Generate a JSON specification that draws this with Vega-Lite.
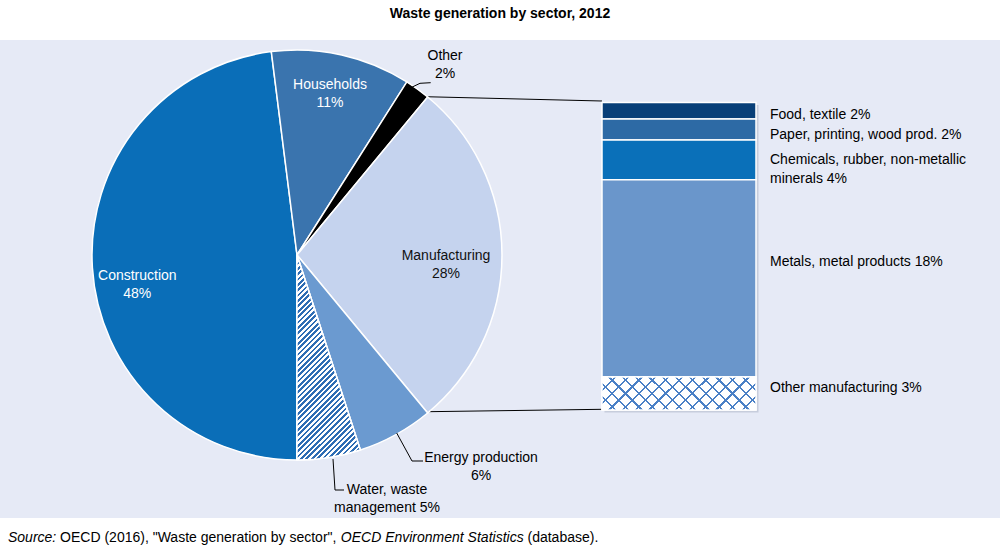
{
"$schema":"https://vega.github.io/schema/vega-lite/v6.json",
"width":1000,"height":478,
"autosize":{"type":"none"},
"padding":{"left":0,"top":40,"right":0,"bottom":32},
"background":"#ffffff",
"view":{"fill":"#e6eaf6","stroke":null},
"config":{"font":"Liberation Sans","axis":{"disable":true},"legend":{"disable":true},"text":{"font":"Liberation Sans","fontSize":14,"color":"#000000"}},
"title":{"text":"Waste generation by sector, 2012","font":"Liberation Sans","fontSize":14,"fontWeight":"bold","color":"#000000","anchor":"middle","offset":19},
"datasets":{
"sectors":[
{"sector":"Construction","pct":48,"ord":1,"label":"Construction\n48%"},
{"sector":"Households","pct":11,"ord":2,"label":"Households\n11%"},
{"sector":"Other","pct":2,"ord":3,"label":"Other\n2%"},
{"sector":"Manufacturing","pct":28,"ord":4,"label":"Manufacturing\n28%"},
{"sector":"Energy production","pct":6,"ord":5,"label":"Energy production\n6%"},
{"sector":"Water, waste management","pct":5,"ord":6,"label":"Water, waste\nmanagement 5%"}
],
"manuf":[
{"item":"Food, textile","pct":1.5,"ord":5,"label":"Food, textile 2%"},
{"item":"Paper, printing, wood prod.","pct":1.9,"ord":4,"label":"Paper, printing, wood prod. 2%"},
{"item":"Chemicals, rubber, non-metallic minerals","pct":3.6,"ord":3,"label":"Chemicals, rubber, non-metallic\nminerals 4%"},
{"item":"Metals, metal products","pct":17.9,"ord":2,"label":"Metals, metal products 18%"},
{"item":"Other manufacturing","pct":3.0,"ord":1,"label":"Other manufacturing 3%"}
]
},
"data":{"values":[{}]},
"resolve":{"scale":{"y":"independent","color":"independent"}},
"layer":[
{"layer":[
{"mark":{"type":"rule","color":"#000000","strokeWidth":1},"encoding":{"x":{"datum":42.5,"type":"quantitative","scale":{"domain":[0,100],"nice":false}},"y":{"datum":42.13,"type":"quantitative","scale":{"domain":[0,47.8],"nice":false}},"x2":{"datum":60.2},"y2":{"datum":41.7}}},
{"mark":{"type":"rule","color":"#000000","strokeWidth":1},"encoding":{"x":{"datum":42.8,"type":"quantitative"},"y":{"datum":10.63,"type":"quantitative"},"x2":{"datum":60.2},"y2":{"datum":10.87}}},
{"data":{"name":"sectors"},
"transform":[{"stack":"pct","groupby":[],"sort":[{"field":"ord","order":"ascending"}],"as":["s0","s1"]}],
"mark":{"type":"arc","radius":205,"stroke":"#ffffff","strokeWidth":1.5},
"encoding":{
"x":{"datum":29.7,"type":"quantitative","scale":{"domain":[0,100],"nice":false}},
"y":{"datum":26.3,"type":"quantitative","scale":{"domain":[0,47.8],"nice":false}},
"theta":{"field":"s0","type":"quantitative","scale":{"domain":[0,100],"range":[3.14159265,9.42477796]}},
"theta2":{"field":"s1"},
"color":{"field":"sector","type":"nominal","scale":{"domain":["Construction","Households","Other","Manufacturing","Energy production","Water, waste management"],"range":["#0a6eb8","#3a74ae","#000000","#c5d3ee","#6b9ad0","#ffffff"]}}
}},
{"data":{"name":"sectors"},
"transform":[{"stack":"pct","groupby":[],"sort":[{"field":"ord","order":"ascending"}],"as":["s0","s1"]},{"filter":"datum.sector === 'Water, waste management'"}],
"mark":{"type":"arc","radius":205,"stroke":"#ffffff","strokeWidth":1.5,"fill":{"gradient":"linear","x1":0,"y1":0,"x2":0.369,"y2":1.195,"stops":[
{"offset":0,"color":"#ffffff"},
{"offset":0.01,"color":"#ffffff"},{"offset":0.01,"color":"#2e6db4"},{"offset":0.02,"color":"#2e6db4"},{"offset":0.02,"color":"#ffffff"},
{"offset":0.03,"color":"#ffffff"},{"offset":0.03,"color":"#2e6db4"},{"offset":0.04,"color":"#2e6db4"},{"offset":0.04,"color":"#ffffff"},
{"offset":0.05,"color":"#ffffff"},{"offset":0.05,"color":"#2e6db4"},{"offset":0.06,"color":"#2e6db4"},{"offset":0.06,"color":"#ffffff"},
{"offset":0.07,"color":"#ffffff"},{"offset":0.07,"color":"#2e6db4"},{"offset":0.08,"color":"#2e6db4"},{"offset":0.08,"color":"#ffffff"},
{"offset":0.09,"color":"#ffffff"},{"offset":0.09,"color":"#2e6db4"},{"offset":0.10,"color":"#2e6db4"},{"offset":0.10,"color":"#ffffff"},
{"offset":0.11,"color":"#ffffff"},{"offset":0.11,"color":"#2e6db4"},{"offset":0.12,"color":"#2e6db4"},{"offset":0.12,"color":"#ffffff"},
{"offset":0.13,"color":"#ffffff"},{"offset":0.13,"color":"#2e6db4"},{"offset":0.14,"color":"#2e6db4"},{"offset":0.14,"color":"#ffffff"},
{"offset":0.15,"color":"#ffffff"},{"offset":0.15,"color":"#2e6db4"},{"offset":0.16,"color":"#2e6db4"},{"offset":0.16,"color":"#ffffff"},
{"offset":0.17,"color":"#ffffff"},{"offset":0.17,"color":"#2e6db4"},{"offset":0.18,"color":"#2e6db4"},{"offset":0.18,"color":"#ffffff"},
{"offset":0.19,"color":"#ffffff"},{"offset":0.19,"color":"#2e6db4"},{"offset":0.20,"color":"#2e6db4"},{"offset":0.20,"color":"#ffffff"},
{"offset":0.21,"color":"#ffffff"},{"offset":0.21,"color":"#2e6db4"},{"offset":0.22,"color":"#2e6db4"},{"offset":0.22,"color":"#ffffff"},
{"offset":0.23,"color":"#ffffff"},{"offset":0.23,"color":"#2e6db4"},{"offset":0.24,"color":"#2e6db4"},{"offset":0.24,"color":"#ffffff"},
{"offset":0.25,"color":"#ffffff"},{"offset":0.25,"color":"#2e6db4"},{"offset":0.26,"color":"#2e6db4"},{"offset":0.26,"color":"#ffffff"},
{"offset":0.27,"color":"#ffffff"},{"offset":0.27,"color":"#2e6db4"},{"offset":0.28,"color":"#2e6db4"},{"offset":0.28,"color":"#ffffff"},
{"offset":0.29,"color":"#ffffff"},{"offset":0.29,"color":"#2e6db4"},{"offset":0.30,"color":"#2e6db4"},{"offset":0.30,"color":"#ffffff"},
{"offset":0.31,"color":"#ffffff"},{"offset":0.31,"color":"#2e6db4"},{"offset":0.32,"color":"#2e6db4"},{"offset":0.32,"color":"#ffffff"},
{"offset":0.33,"color":"#ffffff"},{"offset":0.33,"color":"#2e6db4"},{"offset":0.34,"color":"#2e6db4"},{"offset":0.34,"color":"#ffffff"},
{"offset":0.35,"color":"#ffffff"},{"offset":0.35,"color":"#2e6db4"},{"offset":0.36,"color":"#2e6db4"},{"offset":0.36,"color":"#ffffff"},
{"offset":0.37,"color":"#ffffff"},{"offset":0.37,"color":"#2e6db4"},{"offset":0.38,"color":"#2e6db4"},{"offset":0.38,"color":"#ffffff"},
{"offset":0.39,"color":"#ffffff"},{"offset":0.39,"color":"#2e6db4"},{"offset":0.40,"color":"#2e6db4"},{"offset":0.40,"color":"#ffffff"},
{"offset":0.41,"color":"#ffffff"},{"offset":0.41,"color":"#2e6db4"},{"offset":0.42,"color":"#2e6db4"},{"offset":0.42,"color":"#ffffff"},
{"offset":0.43,"color":"#ffffff"},{"offset":0.43,"color":"#2e6db4"},{"offset":0.44,"color":"#2e6db4"},{"offset":0.44,"color":"#ffffff"},
{"offset":0.45,"color":"#ffffff"},{"offset":0.45,"color":"#2e6db4"},{"offset":0.46,"color":"#2e6db4"},{"offset":0.46,"color":"#ffffff"},
{"offset":0.47,"color":"#ffffff"},{"offset":0.47,"color":"#2e6db4"},{"offset":0.48,"color":"#2e6db4"},{"offset":0.48,"color":"#ffffff"},
{"offset":0.49,"color":"#ffffff"},{"offset":0.49,"color":"#2e6db4"},{"offset":0.50,"color":"#2e6db4"},{"offset":0.50,"color":"#ffffff"},
{"offset":0.51,"color":"#ffffff"},{"offset":0.51,"color":"#2e6db4"},{"offset":0.52,"color":"#2e6db4"},{"offset":0.52,"color":"#ffffff"},
{"offset":0.53,"color":"#ffffff"},{"offset":0.53,"color":"#2e6db4"},{"offset":0.54,"color":"#2e6db4"},{"offset":0.54,"color":"#ffffff"},
{"offset":0.55,"color":"#ffffff"},{"offset":0.55,"color":"#2e6db4"},{"offset":0.56,"color":"#2e6db4"},{"offset":0.56,"color":"#ffffff"},
{"offset":0.57,"color":"#ffffff"},{"offset":0.57,"color":"#2e6db4"},{"offset":0.58,"color":"#2e6db4"},{"offset":0.58,"color":"#ffffff"},
{"offset":0.59,"color":"#ffffff"},{"offset":0.59,"color":"#2e6db4"},{"offset":0.60,"color":"#2e6db4"},{"offset":0.60,"color":"#ffffff"},
{"offset":0.61,"color":"#ffffff"},{"offset":0.61,"color":"#2e6db4"},{"offset":0.62,"color":"#2e6db4"},{"offset":0.62,"color":"#ffffff"},
{"offset":0.63,"color":"#ffffff"},{"offset":0.63,"color":"#2e6db4"},{"offset":0.64,"color":"#2e6db4"},{"offset":0.64,"color":"#ffffff"},
{"offset":0.65,"color":"#ffffff"},{"offset":0.65,"color":"#2e6db4"},{"offset":0.66,"color":"#2e6db4"},{"offset":0.66,"color":"#ffffff"},
{"offset":0.67,"color":"#ffffff"},{"offset":0.67,"color":"#2e6db4"},{"offset":0.68,"color":"#2e6db4"},{"offset":0.68,"color":"#ffffff"},
{"offset":0.69,"color":"#ffffff"},{"offset":0.69,"color":"#2e6db4"},{"offset":0.70,"color":"#2e6db4"},{"offset":0.70,"color":"#ffffff"},
{"offset":0.71,"color":"#ffffff"},{"offset":0.71,"color":"#2e6db4"},{"offset":0.72,"color":"#2e6db4"},{"offset":0.72,"color":"#ffffff"},
{"offset":0.73,"color":"#ffffff"},{"offset":0.73,"color":"#2e6db4"},{"offset":0.74,"color":"#2e6db4"},{"offset":0.74,"color":"#ffffff"},
{"offset":0.75,"color":"#ffffff"},{"offset":0.75,"color":"#2e6db4"},{"offset":0.76,"color":"#2e6db4"},{"offset":0.76,"color":"#ffffff"},
{"offset":0.77,"color":"#ffffff"},{"offset":0.77,"color":"#2e6db4"},{"offset":0.78,"color":"#2e6db4"},{"offset":0.78,"color":"#ffffff"},
{"offset":0.79,"color":"#ffffff"},{"offset":0.79,"color":"#2e6db4"},{"offset":0.80,"color":"#2e6db4"},{"offset":0.80,"color":"#ffffff"},
{"offset":0.81,"color":"#ffffff"},{"offset":0.81,"color":"#2e6db4"},{"offset":0.82,"color":"#2e6db4"},{"offset":0.82,"color":"#ffffff"},
{"offset":0.83,"color":"#ffffff"},{"offset":0.83,"color":"#2e6db4"},{"offset":0.84,"color":"#2e6db4"},{"offset":0.84,"color":"#ffffff"},
{"offset":0.85,"color":"#ffffff"},{"offset":0.85,"color":"#2e6db4"},{"offset":0.86,"color":"#2e6db4"},{"offset":0.86,"color":"#ffffff"},
{"offset":0.87,"color":"#ffffff"},{"offset":0.87,"color":"#2e6db4"},{"offset":0.88,"color":"#2e6db4"},{"offset":0.88,"color":"#ffffff"},
{"offset":0.89,"color":"#ffffff"},{"offset":0.89,"color":"#2e6db4"},{"offset":0.90,"color":"#2e6db4"},{"offset":0.90,"color":"#ffffff"},
{"offset":0.91,"color":"#ffffff"},{"offset":0.91,"color":"#2e6db4"},{"offset":0.92,"color":"#2e6db4"},{"offset":0.92,"color":"#ffffff"},
{"offset":0.93,"color":"#ffffff"},{"offset":0.93,"color":"#2e6db4"},{"offset":0.94,"color":"#2e6db4"},{"offset":0.94,"color":"#ffffff"},
{"offset":0.95,"color":"#ffffff"},{"offset":0.95,"color":"#2e6db4"},{"offset":0.96,"color":"#2e6db4"},{"offset":0.96,"color":"#ffffff"},
{"offset":0.97,"color":"#ffffff"},{"offset":0.97,"color":"#2e6db4"},{"offset":0.98,"color":"#2e6db4"},{"offset":0.98,"color":"#ffffff"},
{"offset":0.99,"color":"#ffffff"},{"offset":0.99,"color":"#2e6db4"},{"offset":1,"color":"#2e6db4"}
]}},
"encoding":{
"x":{"datum":29.7,"type":"quantitative"},
"y":{"datum":26.3,"type":"quantitative"},
"theta":{"field":"s0","type":"quantitative","scale":{"domain":[0,100],"range":[3.14159265,9.42477796]}},
"theta2":{"field":"s1"}
}},
{"mark":{"type":"rule","color":"#000000","strokeWidth":1},"encoding":{"x":{"datum":41.17,"type":"quantitative"},"y":{"datum":43.07,"type":"quantitative"},"x2":{"datum":42.0},"y2":{"datum":43.47}}},
{"mark":{"type":"rule","color":"#000000","strokeWidth":1},"encoding":{"x":{"datum":42.0,"type":"quantitative"},"y":{"datum":43.47,"type":"quantitative"},"x2":{"datum":43.07},"y2":{"datum":43.53}}},
{"mark":{"type":"rule","color":"#000000","strokeWidth":1},"encoding":{"x":{"datum":39.67,"type":"quantitative"},"y":{"datum":8.5,"type":"quantitative"},"x2":{"datum":41.2},"y2":{"datum":5.7}}},
{"mark":{"type":"rule","color":"#000000","strokeWidth":1},"encoding":{"x":{"datum":41.2,"type":"quantitative"},"y":{"datum":5.7,"type":"quantitative"},"x2":{"datum":42.3},"y2":{"datum":5.7}}},
{"mark":{"type":"rule","color":"#000000","strokeWidth":1},"encoding":{"x":{"datum":33.3,"type":"quantitative"},"y":{"datum":5.9,"type":"quantitative"},"x2":{"datum":33.5},"y2":{"datum":2.8}}},
{"mark":{"type":"rule","color":"#000000","strokeWidth":1},"encoding":{"x":{"datum":33.5,"type":"quantitative"},"y":{"datum":2.8,"type":"quantitative"},"x2":{"datum":34.4},"y2":{"datum":2.8}}},
{"data":{"name":"sectors"},
"transform":[{"stack":"pct","groupby":[],"sort":[{"field":"ord","order":"ascending"}],"as":["s0","s1"]},{"calculate":"(datum.s0 + datum.s1) / 2","as":"mid"},{"filter":"datum.sector === 'Households'"}],
"mark":{"type":"text","radius":165,"dx":-3,"dy":-9,"align":"center","baseline":"middle","lineBreak":"\n","lineHeight":18.5,"color":"#ffffff"},
"encoding":{"x":{"datum":29.7,"type":"quantitative"},"y":{"datum":26.3,"type":"quantitative"},"theta":{"field":"mid","type":"quantitative","scale":{"domain":[0,100],"range":[3.14159265,9.42477796]}},"text":{"field":"label"}}},
{"data":{"name":"sectors"},
"transform":[{"stack":"pct","groupby":[],"sort":[{"field":"ord","order":"ascending"}],"as":["s0","s1"]},{"calculate":"(datum.s0 + datum.s1) / 2","as":"mid"},{"filter":"datum.sector === 'Construction'"}],
"mark":{"type":"text","radius":160,"dy":10.5,"align":"center","baseline":"middle","lineBreak":"\n","lineHeight":18.5,"color":"#ffffff"},
"encoding":{"x":{"datum":29.7,"type":"quantitative"},"y":{"datum":26.3,"type":"quantitative"},"theta":{"field":"mid","type":"quantitative"},"text":{"field":"label"}}},
{"data":{"name":"sectors"},
"transform":[{"stack":"pct","groupby":[],"sort":[{"field":"ord","order":"ascending"}],"as":["s0","s1"]},{"calculate":"(datum.s0 + datum.s1) / 2","as":"mid"},{"filter":"datum.sector === 'Manufacturing'"}],
"mark":{"type":"text","radius":149,"dy":0.5,"align":"center","baseline":"middle","lineBreak":"\n","lineHeight":18.5,"color":"#111111"},
"encoding":{"x":{"datum":29.7,"type":"quantitative"},"y":{"datum":26.3,"type":"quantitative"},"theta":{"field":"mid","type":"quantitative"},"text":{"field":"label"}}},
{"data":{"name":"sectors"},
"transform":[{"stack":"pct","groupby":[],"sort":[{"field":"ord","order":"ascending"}],"as":["s0","s1"]},{"calculate":"(datum.s0 + datum.s1) / 2","as":"mid"},{"filter":"datum.sector === 'Other'"}],
"mark":{"type":"text","radius":236,"dx":9.3,"dy":-8.5,"align":"center","baseline":"middle","lineBreak":"\n","lineHeight":18,"color":"#000000"},
"encoding":{"x":{"datum":29.7,"type":"quantitative"},"y":{"datum":26.3,"type":"quantitative"},"theta":{"field":"mid","type":"quantitative"},"text":{"field":"label"}}},
{"data":{"name":"sectors"},
"transform":[{"stack":"pct","groupby":[],"sort":[{"field":"ord","order":"ascending"}],"as":["s0","s1"]},{"calculate":"(datum.s0 + datum.s1) / 2","as":"mid"},{"filter":"datum.sector === 'Energy production'"}],
"mark":{"type":"text","radius":240,"dx":68.4,"dy":-7.8,"align":"center","baseline":"middle","lineBreak":"\n","lineHeight":18.5,"color":"#000000"},
"encoding":{"x":{"datum":29.7,"type":"quantitative"},"y":{"datum":26.3,"type":"quantitative"},"theta":{"field":"mid","type":"quantitative"},"text":{"field":"label"}}},
{"data":{"name":"sectors"},
"transform":[{"stack":"pct","groupby":[],"sort":[{"field":"ord","order":"ascending"}],"as":["s0","s1"]},{"calculate":"(datum.s0 + datum.s1) / 2","as":"mid"},{"filter":"datum.sector === 'Water, waste management'"}],
"mark":{"type":"text","radius":245,"dx":51.7,"dy":-7,"align":"center","baseline":"middle","lineBreak":"\n","lineHeight":18.5,"color":"#000000"},
"encoding":{"x":{"datum":29.7,"type":"quantitative"},"y":{"datum":26.3,"type":"quantitative"},"theta":{"field":"mid","type":"quantitative"},"text":{"field":"label"}}},
{"mark":{"type":"text","align":"left","baseline":"middle","fontStyle":"italic","color":"#000000"},"encoding":{"x":{"datum":0.8,"type":"quantitative"},"y":{"datum":-2.0,"type":"quantitative"},"text":{"value":"Source:"}}},
{"mark":{"type":"text","align":"left","baseline":"middle","color":"#000000"},"encoding":{"x":{"datum":6.01,"type":"quantitative"},"y":{"datum":-2.0,"type":"quantitative"},"text":{"value":"OECD (2016), \"Waste generation by sector\","}}},
{"mark":{"type":"text","align":"left","baseline":"middle","fontStyle":"italic","color":"#000000"},"encoding":{"x":{"datum":34.08,"type":"quantitative"},"y":{"datum":-2.0,"type":"quantitative"},"text":{"value":"OECD Environment Statistics"}}},
{"mark":{"type":"text","align":"left","baseline":"middle","color":"#000000"},"encoding":{"x":{"datum":52.75,"type":"quantitative"},"y":{"datum":-2.0,"type":"quantitative"},"text":{"value":"(database)."}}}
]},
{"data":{"name":"manuf"},
"transform":[{"stack":"pct","groupby":[],"sort":[{"field":"ord","order":"ascending"}],"as":["y0","y1"]},{"calculate":"(datum.y0 + datum.y1) / 2","as":"mid"}],
"layer":[
{"mark":{"type":"rect","fill":"#8d97ad","opacity":0.35,"xOffset":2.5,"x2Offset":2.5,"yOffset":2.5,"y2Offset":2.5},
"encoding":{"x":{"datum":60.2,"type":"quantitative","scale":{"domain":[0,100],"nice":false}},"x2":{"datum":75.6},"y":{"field":"y0","type":"quantitative","scale":{"domain":[-9.799,33.57],"nice":false}},"y2":{"field":"y1"}}},
{"mark":{"type":"rect","stroke":"#ffffff","strokeWidth":1.5},
"encoding":{"x":{"datum":60.2,"type":"quantitative"},"x2":{"datum":75.6},"y":{"field":"y0","type":"quantitative"},"y2":{"field":"y1"},
"color":{"field":"item","type":"nominal","scale":{"domain":["Food, textile","Paper, printing, wood prod.","Chemicals, rubber, non-metallic minerals","Metals, metal products","Other manufacturing"],"range":["#083f78","#2d6aa5","#0a70b9","#6a96cb","#ffffff"]}}}},
{"transform":[{"filter":"datum.item === 'Other manufacturing'"}],
"mark":{"type":"rect","fill":{"gradient":"linear","x1":0,"y1":0,"x2":1.1617,"y2":0.2506,"stops":[
{"offset":0,"color":"rgba(255,255,255,0)"},
{"offset":0.0654,"color":"rgba(255,255,255,0)"},{"offset":0.0654,"color":"#4a80c6"},{"offset":0.0774,"color":"#4a80c6"},{"offset":0.0774,"color":"rgba(255,255,255,0)"},
{"offset":0.1369,"color":"rgba(255,255,255,0)"},{"offset":0.1369,"color":"#4a80c6"},{"offset":0.1489,"color":"#4a80c6"},{"offset":0.1489,"color":"rgba(255,255,255,0)"},
{"offset":0.2083,"color":"rgba(255,255,255,0)"},{"offset":0.2083,"color":"#4a80c6"},{"offset":0.2203,"color":"#4a80c6"},{"offset":0.2203,"color":"rgba(255,255,255,0)"},
{"offset":0.2797,"color":"rgba(255,255,255,0)"},{"offset":0.2797,"color":"#4a80c6"},{"offset":0.2917,"color":"#4a80c6"},{"offset":0.2917,"color":"rgba(255,255,255,0)"},
{"offset":0.3511,"color":"rgba(255,255,255,0)"},{"offset":0.3511,"color":"#4a80c6"},{"offset":0.3631,"color":"#4a80c6"},{"offset":0.3631,"color":"rgba(255,255,255,0)"},
{"offset":0.4226,"color":"rgba(255,255,255,0)"},{"offset":0.4226,"color":"#4a80c6"},{"offset":0.4346,"color":"#4a80c6"},{"offset":0.4346,"color":"rgba(255,255,255,0)"},
{"offset":0.494,"color":"rgba(255,255,255,0)"},{"offset":0.494,"color":"#4a80c6"},{"offset":0.506,"color":"#4a80c6"},{"offset":0.506,"color":"rgba(255,255,255,0)"},
{"offset":0.5654,"color":"rgba(255,255,255,0)"},{"offset":0.5654,"color":"#4a80c6"},{"offset":0.5774,"color":"#4a80c6"},{"offset":0.5774,"color":"rgba(255,255,255,0)"},
{"offset":0.6369,"color":"rgba(255,255,255,0)"},{"offset":0.6369,"color":"#4a80c6"},{"offset":0.6489,"color":"#4a80c6"},{"offset":0.6489,"color":"rgba(255,255,255,0)"},
{"offset":0.7083,"color":"rgba(255,255,255,0)"},{"offset":0.7083,"color":"#4a80c6"},{"offset":0.7203,"color":"#4a80c6"},{"offset":0.7203,"color":"rgba(255,255,255,0)"},
{"offset":0.7797,"color":"rgba(255,255,255,0)"},{"offset":0.7797,"color":"#4a80c6"},{"offset":0.7917,"color":"#4a80c6"},{"offset":0.7917,"color":"rgba(255,255,255,0)"},
{"offset":0.8511,"color":"rgba(255,255,255,0)"},{"offset":0.8511,"color":"#4a80c6"},{"offset":0.8631,"color":"#4a80c6"},{"offset":0.8631,"color":"rgba(255,255,255,0)"},
{"offset":0.9226,"color":"rgba(255,255,255,0)"},{"offset":0.9226,"color":"#4a80c6"},{"offset":0.9346,"color":"#4a80c6"},{"offset":0.9346,"color":"rgba(255,255,255,0)"},
{"offset":1,"color":"rgba(255,255,255,0)"}]}},
"encoding":{"x":{"datum":60.2,"type":"quantitative"},"x2":{"datum":75.6},"y":{"field":"y0","type":"quantitative"},"y2":{"field":"y1"}}},
{"transform":[{"filter":"datum.item === 'Other manufacturing'"}],
"mark":{"type":"rect","stroke":"#ffffff","strokeWidth":1.5,"fill":{"gradient":"linear","x1":0,"y1":1,"x2":1.1617,"y2":0.7494,"stops":[
{"offset":0,"color":"rgba(255,255,255,0)"},
{"offset":0.0654,"color":"rgba(255,255,255,0)"},{"offset":0.0654,"color":"#4a80c6"},{"offset":0.0774,"color":"#4a80c6"},{"offset":0.0774,"color":"rgba(255,255,255,0)"},
{"offset":0.1369,"color":"rgba(255,255,255,0)"},{"offset":0.1369,"color":"#4a80c6"},{"offset":0.1489,"color":"#4a80c6"},{"offset":0.1489,"color":"rgba(255,255,255,0)"},
{"offset":0.2083,"color":"rgba(255,255,255,0)"},{"offset":0.2083,"color":"#4a80c6"},{"offset":0.2203,"color":"#4a80c6"},{"offset":0.2203,"color":"rgba(255,255,255,0)"},
{"offset":0.2797,"color":"rgba(255,255,255,0)"},{"offset":0.2797,"color":"#4a80c6"},{"offset":0.2917,"color":"#4a80c6"},{"offset":0.2917,"color":"rgba(255,255,255,0)"},
{"offset":0.3511,"color":"rgba(255,255,255,0)"},{"offset":0.3511,"color":"#4a80c6"},{"offset":0.3631,"color":"#4a80c6"},{"offset":0.3631,"color":"rgba(255,255,255,0)"},
{"offset":0.4226,"color":"rgba(255,255,255,0)"},{"offset":0.4226,"color":"#4a80c6"},{"offset":0.4346,"color":"#4a80c6"},{"offset":0.4346,"color":"rgba(255,255,255,0)"},
{"offset":0.494,"color":"rgba(255,255,255,0)"},{"offset":0.494,"color":"#4a80c6"},{"offset":0.506,"color":"#4a80c6"},{"offset":0.506,"color":"rgba(255,255,255,0)"},
{"offset":0.5654,"color":"rgba(255,255,255,0)"},{"offset":0.5654,"color":"#4a80c6"},{"offset":0.5774,"color":"#4a80c6"},{"offset":0.5774,"color":"rgba(255,255,255,0)"},
{"offset":0.6369,"color":"rgba(255,255,255,0)"},{"offset":0.6369,"color":"#4a80c6"},{"offset":0.6489,"color":"#4a80c6"},{"offset":0.6489,"color":"rgba(255,255,255,0)"},
{"offset":0.7083,"color":"rgba(255,255,255,0)"},{"offset":0.7083,"color":"#4a80c6"},{"offset":0.7203,"color":"#4a80c6"},{"offset":0.7203,"color":"rgba(255,255,255,0)"},
{"offset":0.7797,"color":"rgba(255,255,255,0)"},{"offset":0.7797,"color":"#4a80c6"},{"offset":0.7917,"color":"#4a80c6"},{"offset":0.7917,"color":"rgba(255,255,255,0)"},
{"offset":0.8511,"color":"rgba(255,255,255,0)"},{"offset":0.8511,"color":"#4a80c6"},{"offset":0.8631,"color":"#4a80c6"},{"offset":0.8631,"color":"rgba(255,255,255,0)"},
{"offset":0.9226,"color":"rgba(255,255,255,0)"},{"offset":0.9226,"color":"#4a80c6"},{"offset":0.9346,"color":"#4a80c6"},{"offset":0.9346,"color":"rgba(255,255,255,0)"},
{"offset":1,"color":"rgba(255,255,255,0)"}]}},
"encoding":{"x":{"datum":60.2,"type":"quantitative"},"x2":{"datum":75.6},"y":{"field":"y0","type":"quantitative"},"y2":{"field":"y1"}}},
{"transform":[{"filter":"datum.item === 'Food, textile'"}],"mark":{"type":"text","align":"left","baseline":"middle","dy":4.2,"color":"#000000"},"encoding":{"x":{"datum":77.0,"type":"quantitative"},"y":{"field":"mid","type":"quantitative"},"text":{"field":"label"}}},
{"transform":[{"filter":"datum.item === 'Paper, printing, wood prod.'"}],"mark":{"type":"text","align":"left","baseline":"middle","dy":5.5,"color":"#000000"},"encoding":{"x":{"datum":77.0,"type":"quantitative"},"y":{"field":"mid","type":"quantitative"},"text":{"field":"label"}}},
{"transform":[{"filter":"datum.item === 'Chemicals, rubber, non-metallic minerals'"}],"mark":{"type":"text","align":"left","baseline":"middle","dy":0.5,"lineBreak":"\n","lineHeight":18.5,"color":"#000000"},"encoding":{"x":{"datum":77.0,"type":"quantitative"},"y":{"field":"mid","type":"quantitative"},"text":{"field":"label"}}},
{"transform":[{"filter":"datum.item === 'Metals, metal products'"}],"mark":{"type":"text","align":"left","baseline":"middle","dy":-16.3,"color":"#000000"},"encoding":{"x":{"datum":77.0,"type":"quantitative"},"y":{"field":"mid","type":"quantitative"},"text":{"field":"label"}}},
{"transform":[{"filter":"datum.item === 'Other manufacturing'"}],"mark":{"type":"text","align":"left","baseline":"middle","dy":-5.5,"color":"#000000"},"encoding":{"x":{"datum":77.0,"type":"quantitative"},"y":{"field":"mid","type":"quantitative"},"text":{"field":"label"}}}
]}
]
}
